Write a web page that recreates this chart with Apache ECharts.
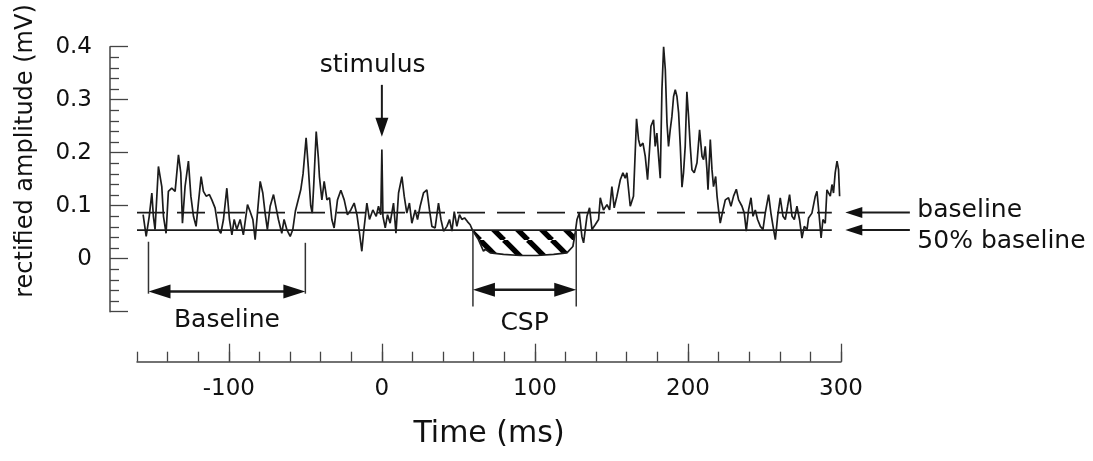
<!DOCTYPE html>
<html>
<head>
<meta charset="utf-8">
<script src="https://cdn.jsdelivr.net/npm/echarts@6/dist/echarts.min.js"></script>
<style>
html,body{margin:0;padding:0;background:#fff;}
#c{width:1093px;height:461px;}
</style>
</head>
<body>
<div id="c"></div>
<script>
// ---- data ----
const times = [
-156,-154,-152,-150.3,-149.3,-148.2,-146,-143.8,-142.7,-141,-139.5,-137.3,-135.1,-132.9,-131.4,-130.3,-128.6,-126.4,-124.8,-123.1,
-121.4,-119.9,-118.1,-116.6,-114.8,-112.7,-111.1,-109,-106.8,-105.2,-103.5,-101.3,-99.6,-98,-96.5,-94.8,-92.6,-90.5,-87.8,-86.1,
-84.3,-82.8,-81.3,-79.5,-77.8,-76.3,-74.8,-73,-70.8,-69.1,-67.6,-65.4,-63.9,-62.1,-59.9,-58.2,-56.5,-53,-51.5,-49.5,
-48,-46.5,-45.5,-44.5,-42.9,-41.5,-40.8,-39.2,-37.7,-35.9,-34.2,-32.7,-31.2,-29,-26.8,-24.6,-22.5,-20.3,-18.1,-16.3,
-14.6,-13.1,-12,-9.8,-8.1,-5.9,-3.7,-2.2,-0.7,0,0.7,2.2,3.7,5.4,7.6,9.2,10.9,13.1,14.6,16.3,
18,19.6,21.8,23.3,25,27.2,29.4,31.1,32.7,34.8,37,38.6,40.3,42.5,44.2,45.8,47.3,49,50.7,52.3,
54,55.9,57.7,59.5,63.1,66.4,67.4,70.8,79.5,90.4,101.3,112.2,120.9,124.8,126.3,127.5,129,130.7,131.8,134,
135.7,137.3,139.4,141.6,142.7,144.8,147.1,148.8,150.3,151.8,153.6,155.8,157.5,159,160.1,162.3,164.4,166.4,167.7,168.8,
170.6,172.1,173.6,174.9,175.8,177.5,178.6,179.7,180.8,181.9,183,184.1,185.2,186.3,187.3,188.4,189.5,190.6,191.7,192.8,
193.9,195,196.1,197.1,198.2,199.3,200.4,201.5,202.6,204.1,205.9,207.6,209.2,210.2,211.3,212.4,213.1,214.6,215.7,216.7,
218.1,219,220,221.1,222.9,224.4,226.5,228.1,229.8,231.6,233.1,235.3,236.8,238.1,239.6,241.2,242.5,244,245.5,247.3,
249,250.5,252.7,254.2,255.6,257.1,258.6,260.3,262.1,263.6,265.1,266.4,268,269.5,271.2,272.9,274.5,276,277.8,278.8,
281,283.2,284.3,285.4,287,288.2,289.7,290.8,291.9,293,294.1,295.1,296.2,297.4,298.4,299.1
];
const amplitude = [
0.083,0.042,0.080,0.124,0.080,0.055,0.174,0.136,0.080,0.048,0.127,0.133,0.127,0.196,0.162,0.067,0.136,0.184,0.118,0.080,
0.061,0.105,0.155,0.127,0.118,0.121,0.111,0.096,0.055,0.048,0.074,0.133,0.074,0.045,0.074,0.055,0.074,0.045,0.102,0.089,
0.074,0.036,0.086,0.146,0.124,0.086,0.055,0.099,0.121,0.096,0.074,0.048,0.074,0.055,0.042,0.055,0.090,0.130,0.160,0.228,
0.170,0.100,0.086,0.140,0.240,0.190,0.155,0.111,0.146,0.111,0.115,0.074,0.058,0.111,0.129,0.111,0.083,0.092,0.105,0.083,
0.048,0.014,0.048,0.105,0.074,0.092,0.080,0.099,0.083,0.206,0.080,0.058,0.083,0.067,0.105,0.048,0.124,0.155,0.118,0.086,
0.105,0.067,0.092,0.074,0.099,0.124,0.130,0.092,0.061,0.058,0.105,0.074,0.052,0.061,0.074,0.052,0.089,0.061,0.083,0.074,
0.077,0.070,0.064,0.052,0.036,0.014,0.018,0.011,0.008,0.006,0.006,0.008,0.011,0.023,0.048,0.074,0.086,0.042,0.030,0.080,
0.096,0.055,0.064,0.074,0.115,0.092,0.102,0.092,0.136,0.096,0.118,0.149,0.162,0.152,0.162,0.099,0.118,0.264,0.225,0.212,
0.218,0.193,0.149,0.206,0.250,0.262,0.212,0.237,0.193,0.152,0.319,0.400,0.357,0.256,0.212,0.243,0.268,0.306,0.319,0.306,
0.275,0.212,0.135,0.162,0.212,0.315,0.268,0.212,0.168,0.162,0.181,0.243,0.193,0.187,0.212,0.168,0.130,0.225,0.168,0.136,
0.155,0.118,0.092,0.067,0.092,0.111,0.115,0.099,0.118,0.131,0.111,0.099,0.086,0.052,0.092,0.115,0.080,0.092,0.074,0.061,
0.055,0.086,0.121,0.086,0.061,0.036,0.080,0.115,0.080,0.074,0.099,0.121,0.080,0.074,0.099,0.074,0.039,0.061,0.055,0.077,
0.086,0.118,0.127,0.092,0.039,0.074,0.067,0.130,0.133,0.118,0.140,0.124,0.162,0.184,0.168,0.118
];
const baselineLevel = 0.087;       // dashed "baseline"
const halfBaselineLevel = 0.054;   // solid "50% baseline"
const levelSpan = [-160, 294];     // extent of the two reference lines (ms)
const baselineWindow = [-152.5, -50];
const cspWindow = [59.5, 127];
const stimulusTime = 0;
const xMajorTicks = [-100, 0, 100, 200, 300];
const yTickLabels = ['0', '0.1', '0.2', '0.3', '0.4'];

// ---- derived ----
const trace = times.map((t, i) => [t, amplitude[i]]);
const cspTrace = [];
times.forEach((t, i) => {
  if (t >= cspWindow[0] && t <= 126.5) cspTrace.push([t, Math.min(amplitude[i], halfBaselineLevel)]);
});

// hatch pattern
const pat = document.createElement('canvas');
pat.width = 24; pat.height = 24;
const pc = pat.getContext('2d');
pc.fillStyle = '#fff'; pc.fillRect(0, 0, 24, 24);
pc.strokeStyle = '#000'; pc.lineWidth = 5.4;
for (let k = -1; k <= 1; k++) {
  pc.beginPath(); pc.moveTo(k * 24, 0); pc.lineTo(k * 24 + 24, 24); pc.stroke();
}

const FONT = 'DejaVu Sans';
const INK = '#111';
const AX = '#444';

const chart = echarts.init(document.getElementById('c'));
chart.setOption({
  animation: false,
  backgroundColor: '#fff',
  grid: { left: 137, right: 252, top: 46.7, bottom: 149.3, outerBoundsMode: 'none' },
  xAxis: [
    {
      type: 'value', min: -160, max: 300, interval: 20, position: 'bottom', offset: 50,
      axisLine: { show: true, onZero: false, lineStyle: { color: AX, width: 1.5 } },
      axisTick: { show: true, inside: true, length: 10, lineStyle: { color: AX, width: 1.3 } },
      axisLabel: {
        show: true, margin: 16, color: INK, fontFamily: FONT, fontSize: 23,
        formatter: v => (xMajorTicks.indexOf(v) >= 0 ? String(v) : '')
      },
      splitLine: { show: false },
      name: 'Time (ms)', nameLocation: 'middle', nameGap: 58,
      nameTextStyle: { color: INK, fontFamily: FONT, fontSize: 30 }
    },
    {
      type: 'value', min: -160, max: 300, position: 'bottom', offset: 50,
      axisLine: { show: false, onZero: false },
      axisTick: { show: true, inside: true, length: 18, customValues: xMajorTicks, lineStyle: { color: AX, width: 1.3 } },
      axisLabel: { show: false },
      splitLine: { show: false }
    }
  ],
  yAxis: {
    type: 'value', min: -0.1, max: 0.4, interval: 0.1, offset: 27,
    axisLine: { show: true, onZero: false, lineStyle: { color: AX, width: 1.5 } },
    axisTick: { show: true, inside: true, length: 18, lineStyle: { color: AX, width: 1.3 } },
    minorTick: { show: true, splitNumber: 5, length: 9, lineStyle: { color: AX, width: 1.3 } },
    axisLabel: {
      margin: 18, color: INK, fontFamily: FONT, fontSize: 23,
      formatter: v => { const i = Math.round(v * 10); return i >= 0 ? yTickLabels[i] : ''; }
    },
    splitLine: { show: false }, minorSplitLine: { show: false }
  },
  series: [
    {
      type: 'line', data: trace, showSymbol: false, symbol: 'none', z: 5,
      lineStyle: { color: '#1c1c1c', width: 1.7 }
    },
    {
      type: 'line', data: [[levelSpan[0], baselineLevel], [levelSpan[1], baselineLevel]],
      symbol: 'none', z: 4, lineStyle: { color: '#1a1a1a', width: 1.8, type: [28, 12] }
    },
    {
      type: 'line', data: [[levelSpan[0], halfBaselineLevel], [levelSpan[1], halfBaselineLevel]],
      symbol: 'none', z: 4, lineStyle: { color: '#1a1a1a', width: 1.8 }
    },
    {
      type: 'custom', data: cspTrace, z: 2, encode: { x: 0, y: 1 },
      renderItem: function (params, api) {
        if (params.dataIndex !== 0) return null;
        const pts = [];
        pts.push(api.coord([cspTrace[0][0], halfBaselineLevel]));
        pts.push(api.coord([cspTrace[cspTrace.length - 1][0], halfBaselineLevel]));
        for (let i = cspTrace.length - 1; i >= 0; i--) pts.push(api.coord(cspTrace[i]));
        return { type: 'polygon', shape: { points: pts },
                 style: { fill: { image: pat, repeat: 'repeat' }, stroke: null } };
      }
    }
  ]
});

// ---- annotations placed through the chart's own scales ----
const P = (t, v) => chart.convertToPixel({ seriesIndex: 0 }, [t, v]);
const G = [];
function seg(a, b, w, col) {
  G.push({ type: 'line', silent: true, z: 10, shape: { x1: a[0], y1: a[1], x2: b[0], y2: b[1] },
           style: { stroke: col || '#1a1a1a', lineWidth: w } });
}
function head(tip, from, len, half) {
  const dx = tip[0] - from[0], dy = tip[1] - from[1];
  const L = Math.hypot(dx, dy), ux = dx / L, uy = dy / L;
  const bx = tip[0] - ux * len, by = tip[1] - uy * len;
  G.push({ type: 'polygon', silent: true, z: 11,
           shape: { points: [[tip[0], tip[1]], [bx - uy * half, by + ux * half], [bx + uy * half, by - ux * half]] },
           style: { fill: '#111' } });
}
function txt(s, x, y, size, align, rot) {
  G.push({ type: 'text', silent: true, z: 12, x: x, y: y, rotation: rot || 0,
           style: { text: s, fill: INK, fontFamily: FONT, fontSize: size,
                    align: align || 'center', verticalAlign: 'middle',
                    textAlign: align || 'center', textVerticalAlign: 'middle' } });
}

// stimulus
{
  const top = P(stimulusTime, 0.328), tip = P(stimulusTime, 0.230);
  seg(top, [tip[0], tip[1] - 10], 2);
  head(tip, top, 19, 6.5);
  const tp = P(-6, 0.364);
  txt('stimulus', tp[0], tp[1], 25);
}
// baseline bracket
{
  const a1 = P(baselineWindow[0], 0.032), a2 = P(baselineWindow[0], -0.066);
  const b1 = P(baselineWindow[1], 0.030), b2 = P(baselineWindow[1], -0.066);
  seg(a1, a2, 1.5, '#333'); seg(b1, b2, 1.5, '#333');
  const l = P(baselineWindow[0], -0.062), r = P(baselineWindow[1], -0.062);
  seg([l[0] + 10, l[1]], [r[0] - 10, r[1]], 2.6);
  head(l, r, 22, 7); head(r, l, 22, 7);
  const tp = P((baselineWindow[0] + baselineWindow[1]) / 2, -0.117);
  txt('Baseline', tp[0], tp[1], 25);
}
// CSP bracket
{
  const a1 = P(cspWindow[0], halfBaselineLevel), a2 = P(cspWindow[0], -0.09);
  const b1 = P(cspWindow[1], halfBaselineLevel), b2 = P(cspWindow[1], -0.09);
  seg(a1, a2, 1.5, '#333'); seg(b1, b2, 1.5, '#333');
  const l = P(cspWindow[0], -0.0585), r = P(cspWindow[1], -0.0585);
  seg([l[0] + 10, l[1]], [r[0] - 10, r[1]], 2.6);
  head(l, r, 22, 7); head(r, l, 22, 7);
  const tp = P((cspWindow[0] + cspWindow[1]) / 2, -0.123);
  txt('CSP', tp[0], tp[1], 25);
}
// right-hand level arrows and labels
{
  const t1 = P(345, baselineLevel), h1 = P(302.8, baselineLevel);
  seg(t1, [h1[0] + 8, h1[1]], 2); head(h1, t1, 17, 5.5);
  const t2 = P(345, halfBaselineLevel), h2 = P(302.8, halfBaselineLevel);
  seg(t2, [h2[0] + 8, h2[1]], 2); head(h2, t2, 17, 5.5);
  const l1 = P(349.9, 0.091), l2 = P(349.9, 0.0326);
  txt('baseline', l1[0], l1[1], 25, 'left');
  txt('50% baseline', l2[0], l2[1], 25, 'left');
}
// y-axis title
txt('rectified amplitude (mV)', 26, 151, 24, 'center', Math.PI / 2);

chart.setOption({ graphic: G });
</script>
</body>
</html>
